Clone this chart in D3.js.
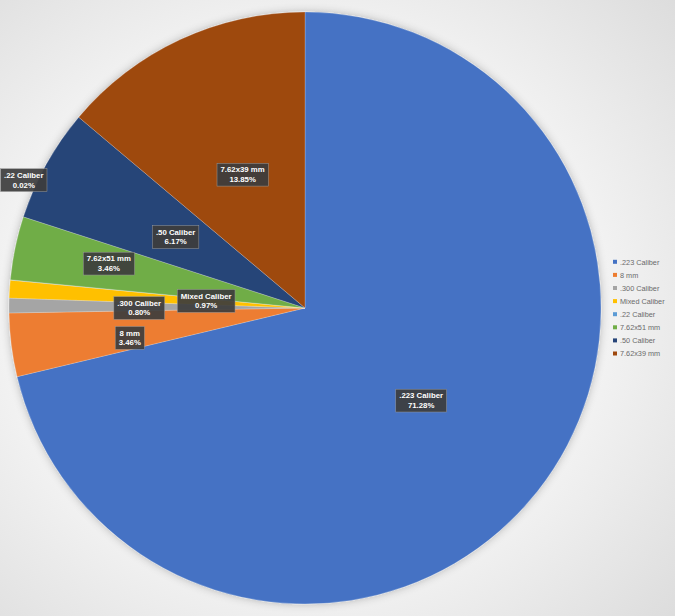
<!DOCTYPE html>
<html><head><meta charset="utf-8">
<script src="https://cdn.jsdelivr.net/npm/d3@7"></script>
<style>html,body{margin:0;padding:0;background:#eee;}svg{display:block;}</style>
</head><body>
<svg id="chart" width="675" height="616"></svg>
<script>
const categories = [".223 Caliber","8 mm",".300 Caliber","Mixed Caliber",".22 Caliber","7.62x51 mm",".50 Caliber","7.62x39 mm"];
const values = [71.28, 3.46, 0.80, 0.97, 0.02, 3.46, 6.17, 13.85];
const colors = ["#4472C4","#ED7D31","#A5A5A5","#FFC000","#5B9BD5","#70AD47","#264478","#9E480E"];
// label placement (radius factor, angle override in degrees or null)
const labelRadius = [0.5, 0.6, 0.56, 0.335, 1.045, 0.68, 0.5, 0.5];
const labelAngle = [null, 260.6, 270.3, 274.6, 294.6, 283, null, null];

const W = 675, H = 616, cx = 305, cy = 308, R = 296;
const svg = d3.select("#chart");
const defs = svg.append("defs");
const bg = defs.append("radialGradient").attr("id","bg").attr("cx","45%").attr("cy","50%").attr("r","75%");
bg.append("stop").attr("offset","0%").attr("stop-color","#fbfbfb");
bg.append("stop").attr("offset","60%").attr("stop-color","#f2f2f2");
bg.append("stop").attr("offset","100%").attr("stop-color","#dcdcdc");
svg.append("rect").attr("width",W).attr("height",H).attr("fill","url(#bg)");
const f = defs.append("filter").attr("id","glow").attr("x","-10%").attr("y","-10%").attr("width","120%").attr("height","120%");
f.append("feGaussianBlur").attr("in","SourceAlpha").attr("stdDeviation",4).attr("result","b");
f.append("feFlood").attr("flood-color","#000").attr("flood-opacity",0.25);
f.append("feComposite").attr("in2","b").attr("operator","in").attr("result","s");
const fm = f.append("feMerge"); fm.append("feMergeNode").attr("in","s"); fm.append("feMergeNode").attr("in","SourceGraphic");

const data = categories.map((c,i)=>({cat:c, value:values[i], i}));
const pie = d3.pie().value(d=>d.value).sort(null);
const arcs = pie(data);
const arc = d3.arc().innerRadius(0).outerRadius(R);
const color = d3.scaleOrdinal().domain(categories).range(colors);

const g = svg.append("g").attr("transform",`translate(${cx},${cy})`);
g.append("g").attr("filter","url(#glow)").selectAll("path").data(arcs).join("path")
  .attr("d",arc).attr("fill",d=>color(d.data.cat))
  .attr("stroke","rgba(255,255,255,0.35)").attr("stroke-width",0.6);

const lg = g.append("g");
arcs.forEach((a,i)=>{
  const mid = labelAngle[i]!==null ? labelAngle[i]*Math.PI/180 : (a.startAngle+a.endAngle)/2;
  const r = labelRadius[i]*R;
  const x = r*Math.sin(mid), y = -r*Math.cos(mid);
  const t = lg.append("g").attr("transform",`translate(${x},${y})`);
  const txt = t.append("text").attr("text-anchor","middle")
    .attr("font-family","Liberation Sans, Arial, sans-serif").attr("font-weight","bold")
    .attr("font-size",7.8).attr("fill","#fff");
  txt.append("tspan").attr("x",0).attr("y",-1.5).text(a.data.cat);
  txt.append("tspan").attr("x",0).attr("y",8.3).text(d3.format(".2f")(a.data.value)+"%");
  const bb = txt.node().getBBox();
  t.insert("rect","text").attr("x",bb.x-3.5).attr("y",bb.y-2).attr("width",bb.width+7).attr("height",bb.height+4)
    .attr("fill","#3d3d3d").attr("fill-opacity",0.92).attr("stroke","#9a9a9a").attr("stroke-width",0.5);
});

const leg = svg.append("g").attr("transform","translate(613,262)");
categories.forEach((c,i)=>{
  const row = leg.append("g").attr("transform",`translate(0,${i*13.1})`);
  row.append("rect").attr("x",0).attr("y",-2.2).attr("width",4).attr("height",4).attr("fill",color(c));
  row.append("text").attr("x",7).attr("y",2.6).attr("font-family","Liberation Sans, Arial, sans-serif")
    .attr("font-size",7.3).attr("fill","#6a6a6a").text(c);
});
</script>
</body></html>
